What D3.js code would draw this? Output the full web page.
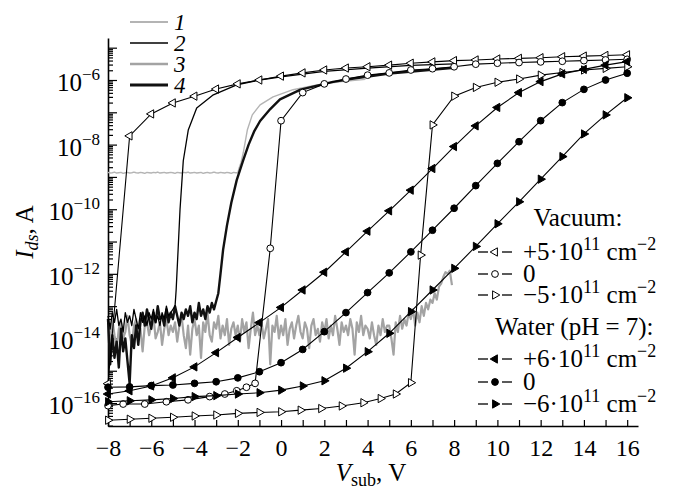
<!DOCTYPE html>
<html>
<head>
<meta charset="utf-8">
<script src="https://cdn.jsdelivr.net/npm/d3@7"></script>
<style>
    body { margin: 0; background: #fff; }
    svg, svg text { font-family: "Liberation Serif", "Times New Roman", Times, "DejaVu Serif", serif; }
    svg text { fill: #000; }
</style>
</head>
<body>
<div id="chart-area"></div>
<script>

// All currents are stored as log10(I_ds / A)
// ---------------------------------------------------------------

var serifFont = "'Liberation Serif', 'Times New Roman', Times, 'DejaVu Serif', serif";

// gate voltage of the marked measurement points (V)
var vSweep = [-8, -7, -6, -5, -4, -3, -2, -1, 0, 1, 2, 3, 4, 5, 6, 7, 8, 9, 10, 11, 12, 13, 14, 15, 16];

// Vacuum, +5e11 cm^-2 (open left triangles)
var vacPosV = [-8, -7, -6, -5, -4, -3, -2, -1, 0, 1, 2, 3, 4, 5, 6, 7, 8, 9, 10, 11, 12, 13, 14, 15, 16];
var vacPosI = [-15.4, -7.73, -7.05, -6.71, -6.5, -6.28, -6.12, -6.0, -5.88, -5.78, -5.69, -5.63, -5.59, -5.54,
    -5.48, -5.44, -5.40, -5.38, -5.35, -5.33, -5.31, -5.28, -5.26, -5.24, -5.22];

// Vacuum, 0 (open circles)
var vacZeroV = [-8, -7.3, -6.3, -5.3, -4.3, -3.3, -2.6, -2.05, -1.6, -1.2, -0.5, 0, 1, 2, 3, 4, 5, 6, 7, 8, 9, 10, 11, 12, 13, 14, 15, 16];
var vacZeroI = [-16.08, -16.03, -16.03, -15.96, -15.9, -15.8, -15.72, -15.62, -15.51, -15.39, -11.21, -7.26, -6.39,
    -6.12, -5.97, -5.85, -5.78, -5.69, -5.65, -5.59, -5.51, -5.48, -5.46, -5.44, -5.42, -5.40, -5.38, -5.36];

// Vacuum, -5e11 cm^-2 (open right triangles)
var vacNegV = [-8, -7, -6, -5, -4, -3, -2, -1, 0, 0.9, 1.85, 2.8, 3.8, 4.6, 5.3, 6.0, 6.45, 7, 8, 9, 10, 11, 12, 13, 14, 15, 16];
var vacNegI = [-16.53, -16.50, -16.47, -16.44, -16.40, -16.37, -16.32, -16.29, -16.27, -16.22, -16.17, -16.09, -15.99,
    -15.86, -15.72, -15.37, -11.42, -7.39, -6.5, -6.23, -6.07, -5.97, -5.85, -5.77, -5.69, -5.64, -5.59];

// Water (pH = 7), measured on vSweep
var watPosI  = [-15.72, -15.62, -15.47, -15.22, -14.88, -14.44, -13.97, -13.51, -13.04, -12.5, -11.95, -11.32, -10.68,
    -10.05, -9.41, -8.74, -8.06, -7.42, -6.85, -6.39, -6.05, -5.81, -5.67, -5.54, -5.43];
var watZeroI = [-15.51, -15.5, -15.46, -15.44, -15.39, -15.34, -15.22, -15.03, -14.75, -14.34, -13.79, -13.2, -12.58,
    -11.97, -11.32, -10.65, -9.97, -9.27, -8.58, -7.91, -7.26, -6.7, -6.29, -6.0, -5.79];
var watNegI  = [-15.96, -15.93, -15.9, -15.86, -15.8, -15.77, -15.72, -15.68, -15.6, -15.47, -15.31, -14.92, -14.41,
    -13.84, -13.17, -12.5, -11.83, -11.15, -10.45, -9.77, -9.07, -8.37, -7.67, -7.08, -6.55];

// continuous curves 1-4: flat/noisy part sampled every 0.1 V from -8 V, then the rise
var sweepStep = 0.1;

var curve1Flat = [-8.86, -8.88, -8.87, -8.85, -8.88, -8.87, -8.86, -8.89, -8.87, -8.86,
    -8.88, -8.87, -8.85, -8.87, -8.88, -8.86, -8.87, -8.89, -8.86, -8.87,
    -8.88, -8.86, -8.87, -8.85, -8.88, -8.87, -8.86, -8.88, -8.87, -8.86,
    -8.87, -8.89, -8.86, -8.87, -8.88, -8.86, -8.87, -8.85, -8.88, -8.87,
    -8.86, -8.88, -8.87, -8.86, -8.89, -8.87, -8.86, -8.88, -8.87, -8.85,
    -8.87, -8.88, -8.86, -8.87, -8.88, -8.86, -8.87, -8.89, -8.86, -8.87, -8.87];
var curve1RiseV = [-1.95, -1.85, -1.75, -1.56, -1.33, -0.97, -0.37, 0.55, 1.66, 2.8, 3.9];
var curve1RiseI = [-8.75, -8.55, -8.26, -7.55, -7.08, -6.77, -6.52, -6.3, -6.15, -6.05, -5.98];

var curve2Noise = [-13.3, -13.7, -13.2, -13.5, -13.1, -13.6, -13.4, -13.8, -13.2, -13.5,
    -13.3, -13.6, -13.1, -13.4, -13.7, -13.2, -13.5, -13.3, -13.6, -13.2,
    -13.4, -13.1, -13.5, -13.3, -13.6, -13.2, -13.4, -13.0, -13.3, -13.2,
    -13.1, -13.0];
var curve2RiseV = [-4.85, -4.76, -4.67, -4.52, -4.29, -3.9, -3.13, -2.05, -1, 0, 2, 4, 6, 8];
var curve2RiseI = [-12.5, -11.26, -10.0, -8.5, -7.55, -6.87, -6.46, -6.15, -6.0, -5.9, -5.73, -5.63, -5.55, -5.5];

var curve3Noise = [-13.6, -14.1, -13.4, -13.9, -14.3, -13.7, -13.5, -14.0, -13.8, -13.3,
    -13.9, -14.2, -13.6, -13.4, -14.0, -13.7, -14.4, -13.6, -13.5, -13.9,
    -13.6, -13.3, -14.0, -13.8, -13.5, -14.2, -13.7, -13.4, -13.9, -13.6,
    -13.8, -13.5, -14.1, -13.6, -13.3, -13.9, -14.3, -13.6, -14.5, -13.7,
    -13.4, -13.9, -13.6, -14.6, -13.5, -13.8, -13.2, -13.9, -14.1, -13.5,
    -13.7, -13.3, -14.0, -13.6, -13.9, -13.4, -14.2, -13.7, -13.5, -13.9,
    -13.6, -14.1, -13.4, -13.8, -13.5, -14.3, -13.7, -13.2, -13.9, -13.6,
    -13.9, -13.5, -14.0, -13.7, -13.4, -14.8, -13.6, -13.8, -13.3, -14.0,
    -13.6, -13.9, -13.4, -14.2, -13.7, -13.5, -14.0, -13.6, -13.3, -13.8,
    -14.0, -13.5, -13.7, -14.3, -13.6, -13.4, -13.9, -13.7, -14.1, -13.5,
    -13.8, -13.4, -14.0, -13.6, -13.9, -13.3, -13.7, -14.2, -13.5, -13.8,
    -13.6, -13.9, -13.4, -13.7, -14.5, -13.5, -13.8, -13.3, -13.9, -13.6,
    -13.7, -14.0, -13.5, -13.9, -14.2, -13.6, -13.9, -13.4, -13.8, -13.6,
    -13.6, -14.0, -14.5, -13.5, -13.8, -13.3, -13.7, -13.4, -13.6, -13.2,
    -13.4, -13.1, -13.6, -13.2, -13.5, -13.0, -13.3, -12.9, -13.1, -12.8,
    -12.9, -12.6, -12.8, -12.4, -12.3, -12.1, -11.95, -12.0, -11.9, -12.35];

var curve4Noise = [-13.4, -14.8, -13.9, -14.6, -14.1, -14.9, -13.7, -14.4, -14.0, -14.7,
    -15.4, -13.9, -14.3, -13.6, -14.2, -13.5,
    -13.2, -13.6, -13.1, -13.4, -13.7, -13.2, -13.5, -13.0, -13.4, -13.3,
    -13.6, -13.1, -13.5, -13.2, -13.4, -13.0, -13.3, -13.6, -13.2, -13.4,
    -13.1, -13.3, -13.0, -13.5, -13.2, -13.4, -12.9, -13.3, -13.1, -13.4,
    -13.0, -13.2, -12.9, -13.1, -12.85];
var curve4RiseV = [-2.9, -2.8, -2.68, -2.5, -2.3, -2.05, -1.76, -1.5, -1.25, -0.97, -0.5, -0.05, 0.9, 2.4, 3.2, 5, 8];
var curve4RiseI = [-12.6, -12.0, -11.26, -10.5, -9.8, -9.1, -8.5, -8.0, -7.6, -7.27, -6.9, -6.6, -6.3, -6.06, -5.97, -5.8, -5.62];

var curveLabels = ["1", "2", "3", "4"];
var xTickValues = [-8, -7, -6, -5, -4, -3, -2, -1, 0, 1, 2, 3, 4, 5, 6, 7, 8, 9, 10, 11, 12, 13, 14, 15, 16];
var yLabelPowers = [-16, -14, -12, -10, -8, -6];


/*
 * IdsChart - Object constructor function
 * @param _parentElement  -- the HTML element in which to draw the chart
 */

IdsChart = function(_parentElement){
    this.parentElement = _parentElement;
    this.initVis();
}


/*
 * Initialize visualization (svg area, scales, axes)
 */

IdsChart.prototype.initVis = function(){
    var vis = this;

    vis.margin = { top: 38, right: 42, bottom: 64, left: 108 };
    vis.width = 680 - vis.margin.left - vis.margin.right;
    vis.height = 490 - vis.margin.top - vis.margin.bottom;

    vis.root = d3.select("#" + vis.parentElement).append("svg")
        .attr("width", 680)
        .attr("height", 490)
        .attr("font-family", serifFont);

    vis.svg = vis.root.append("g")
        .attr("transform", "translate(" + vis.margin.left + "," + vis.margin.top + ")");

    vis.x = d3.scaleLinear()
        .domain([-8, 16.5])
        .range([0, vis.width]);

    vis.y = d3.scaleLog()
        .domain([Math.pow(10, -16.71), Math.pow(10, -4.7)])
        .range([vis.height, 0]);

    // X axis, ticks pointing inwards
    var gx = vis.svg.append("g")
        .attr("transform", "translate(0," + vis.height + ")")
        .call(d3.axisBottom(vis.x)
            .tickValues(xTickValues)
            .tickSize(-6)
            .tickSizeOuter(0)
            .tickPadding(13)
            .tickFormat(function(d){ return d % 2 === 0 ? d3.format("d")(d) : ""; }));
    gx.attr("font-family", serifFont);
    gx.select(".domain").attr("stroke-width", 1.6);
    gx.selectAll(".tick line").attr("stroke-width", 1.2);
    gx.selectAll("text").attr("font-size", 24).attr("font-family", serifFont);

    // Y axis, log minor ticks
    var isDecade = function(d){
        var l = Math.log10(d);
        return Math.abs(l - Math.round(l)) < 1e-6;
    };
    var gy = vis.svg.append("g")
        .call(d3.axisLeft(vis.y)
            .tickValues(vis.y.ticks(30))
            .tickSize(0)
            .tickSizeOuter(0)
            .tickFormat(""));
    gy.attr("font-family", serifFont);
    gy.select(".domain").attr("stroke-width", 1.6);
    gy.selectAll(".tick line")
        .attr("x2", function(d){ return isDecade(d) ? 9 : 5; })
        .attr("stroke-width", 1.2);

    var yLab = gy.selectAll(".ylab")
        .data(yLabelPowers)
        .enter()
        .append("text")
        .attr("class", "ylab")
        .attr("x", -8)
        .attr("y", function(p){ return vis.y(Math.pow(10, p)) + 11; })
        .attr("text-anchor", "end")
        .attr("font-size", 25);
    yLab.append("tspan").text("10");
    yLab.append("tspan")
        .attr("dy", -11)
        .attr("font-size", 17)
        .text(function(p){ return "\u2212" + Math.abs(p); });

    // axis titles
    var yTitle = vis.root.append("text")
        .attr("transform", "translate(33,232) rotate(-90)")
        .attr("text-anchor", "middle")
        .attr("font-size", 25);
    yTitle.append("tspan").attr("font-style", "italic").text("I");
    yTitle.append("tspan").attr("font-style", "italic").attr("font-size", 18).attr("dy", 5).text("ds");
    yTitle.append("tspan").attr("dy", -5).text(", A");

    var xTitle = vis.root.append("text")
        .attr("x", 371)
        .attr("y", 481)
        .attr("text-anchor", "middle")
        .attr("font-size", 25);
    xTitle.append("tspan").attr("font-style", "italic").text("V");
    xTitle.append("tspan").attr("font-size", 18).attr("dy", 5).text("sub");
    xTitle.append("tspan").attr("dy", -5).text(", V");

    vis.wrangleData();
}


/*
 * Data wrangling
 */

IdsChart.prototype.wrangleData = function(){
    var vis = this;

    function pts(vs, ls){
        return vs.map(function(v, k){ return { v: v, i: Math.pow(10, ls[k]) }; });
    }
    function sweep(ls){
        return ls.map(function(l, k){ return { v: -8 + k * sweepStep, i: Math.pow(10, l) }; });
    }

    vis.curves = [
        { key: "3", color: "#a3a3a3", width: 2.2, points: sweep(curve3Noise) },
        { key: "1", color: "#b4b4b4", width: 1.4, points: sweep(curve1Flat).concat(pts(curve1RiseV, curve1RiseI)) },
        { key: "4", color: "#111", width: 2.4, points: sweep(curve4Noise).concat(pts(curve4RiseV, curve4RiseI)) },
        { key: "2", color: "#000", width: 1.3, points: sweep(curve2Noise).concat(pts(curve2RiseV, curve2RiseI)) }
    ];

    vis.series = [
        { label: ["+5\u00b710", "11", " cm", "\u22122"], shape: "tri", rot: -90, filled: false, points: pts(vacPosV, vacPosI) },
        { label: ["0"], shape: "circle", rot: 0, filled: false, points: pts(vacZeroV, vacZeroI) },
        { label: ["\u22125\u00b710", "11", " cm", "\u22122"], shape: "tri", rot: 90, filled: false, points: pts(vacNegV, vacNegI) },
        { label: ["+6\u00b710", "11", " cm", "\u22122"], shape: "tri", rot: -90, filled: true, points: pts(vSweep, watPosI) },
        { label: ["0"], shape: "circle", rot: 0, filled: true, points: pts(vSweep, watZeroI) },
        { label: ["\u22126\u00b710", "11", " cm", "\u22122"], shape: "tri", rot: 90, filled: true, points: pts(vSweep, watNegI) }
    ];

    vis.updateVis();
}


/*
 * The drawing function
 */

IdsChart.prototype.updateVis = function(){
    var vis = this;

    var line = d3.line()
        .x(function(d){ return vis.x(d.v); })
        .y(function(d){ return vis.y(d.i); });

    vis.svg.selectAll(".curve")
        .data(vis.curves)
        .enter()
        .append("path")
        .attr("class", "curve")
        .attr("fill", "none")
        .attr("stroke", function(d){ return d.color; })
        .attr("stroke-width", function(d){ return d.width; })
        .attr("stroke-linejoin", "round")
        .attr("d", function(d){ return line(d.points); });

    var symbolPath = function(s){
        return d3.symbol()
            .type(s.shape === "tri" ? d3.symbolTriangle : d3.symbolCircle)
            .size(s.shape === "tri" ? 30 : 36)();
    };

    var groups = vis.svg.selectAll(".series")
        .data(vis.series)
        .enter()
        .append("g")
        .attr("class", "series");

    groups.append("path")
        .attr("fill", "none")
        .attr("stroke", "#000")
        .attr("stroke-width", 1.1)
        .attr("d", function(d){ return line(d.points); });

    groups.each(function(s){
        d3.select(this).selectAll(".mk")
            .data(s.points)
            .enter()
            .append("path")
            .attr("class", "mk")
            .attr("d", symbolPath(s))
            .attr("transform", function(d){
                return "translate(" + vis.x(d.v) + "," + vis.y(d.i) + ") rotate(" + s.rot + ")";
            })
            .attr("fill", s.filled ? "#000" : "#fff")
            .attr("stroke", "#000")
            .attr("stroke-width", 1);
    });

    // legend of the continuous curves (top left)
    var leg1 = vis.root.append("g");
    var order = [vis.curves[1], vis.curves[3], vis.curves[0], vis.curves[2]];
    var l1 = leg1.selectAll("g")
        .data(curveLabels)
        .enter()
        .append("g")
        .attr("transform", function(d, k){ return "translate(0," + (22 + k * 21) + ")"; });
    l1.append("line")
        .attr("x1", 130).attr("x2", 168)
        .attr("stroke", function(d, k){ return order[k].color; })
        .attr("stroke-width", function(d, k){ return order[k].width + 0.4; });
    l1.append("text")
        .attr("x", 174)
        .attr("y", 8)
        .attr("font-size", 23)
        .attr("font-style", "italic")
        .text(function(d){ return d; });

    // legend of the marked series (right)
    var leg2 = vis.root.append("g");
    leg2.append("text").attr("x", 578).attr("y", 226).attr("text-anchor", "middle")
        .attr("font-size", 25).text("Vacuum:");
    leg2.append("text").attr("x", 495).attr("y", 335)
        .attr("font-size", 25).text("Water (pH = 7):");

    var rowY = [252, 274, 295, 359, 382, 404];
    var rows = leg2.selectAll(".row")
        .data(vis.series)
        .enter()
        .append("g")
        .attr("class", "row")
        .attr("transform", function(d, k){ return "translate(0," + rowY[k] + ")"; });
    rows.append("line").attr("x1", 478).attr("x2", 488).attr("stroke", "#000").attr("stroke-width", 1.3);
    rows.append("line").attr("x1", 502).attr("x2", 512).attr("stroke", "#000").attr("stroke-width", 1.3);
    rows.append("path")
        .attr("d", function(s){ return symbolPath(s); })
        .attr("transform", function(s){ return "translate(495,0) rotate(" + s.rot + ")"; })
        .attr("fill", function(s){ return s.filled ? "#000" : "#fff"; })
        .attr("stroke", "#000");
    var rt = rows.append("text")
        .attr("x", 523)
        .attr("y", 8)
        .attr("font-size", 25);
    rt.each(function(s){
        var t = d3.select(this);
        t.append("tspan").text(s.label[0]);
        if (s.label.length > 1) {
            t.append("tspan").attr("dy", -10).attr("font-size", 18).text(s.label[1]);
            t.append("tspan").attr("dy", 10).text(s.label[2]);
            t.append("tspan").attr("dy", -10).attr("font-size", 18).text(s.label[3]);
        }
    });
}

new IdsChart("chart-area");

</script>
</body>
</html>
